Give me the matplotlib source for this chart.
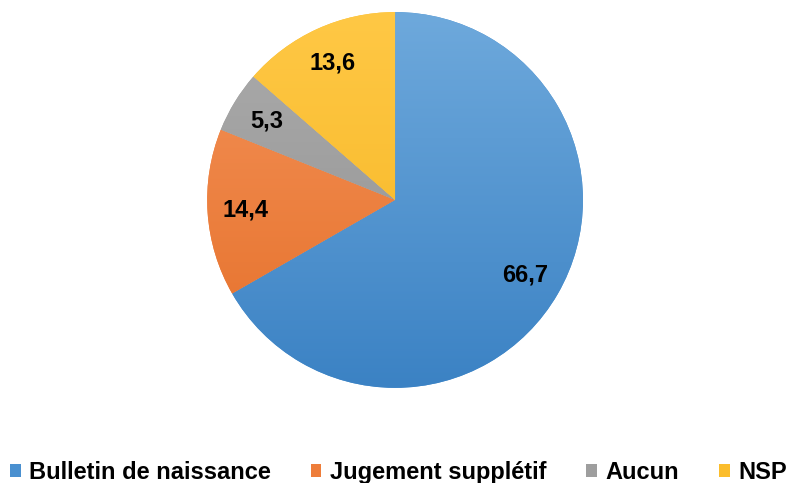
import numpy as np
import matplotlib
matplotlib.use('Agg')
import matplotlib.pyplot as plt
from matplotlib.colors import to_rgb
from matplotlib.patches import Patch

labels = ['Bulletin de naissance', 'Jugement supplétif', 'Aucun', 'NSP']
values = [66.7, 14.4, 5.3, 13.6]
value_texts = ['66,7', '14,4', '5,3', '13,6']
top_colors = ['#6ea9dc', '#f4935a', '#acacac', '#ffc845']
bottom_colors = ['#3b82c4', '#e56f28', '#8f8f8f', '#f4b420']
legend_colors = ['#4a90d0', '#ee7d3a', '#9e9e9e', '#fbbd2c']

plt.rcParams['font.family'] = ['Liberation Sans', 'DejaVu Sans']

fig = plt.figure(figsize=(7.87, 4.83), dpi=100)
ax = fig.add_axes([0.263, 0.197, 0.478, 0.778])

wedges, texts = ax.pie(values, startangle=90, counterclock=False,
                       colors=legend_colors, labels=value_texts,
                       labeldistance=0.8,
                       wedgeprops=dict(linewidth=0),
                       textprops=dict(fontsize=17, fontweight='bold', color='black'))
for t in texts:
    t.set_ha('center')
    t.set_va('center')

# vertical gradient in each slice
n = 256
for w, c1, c2 in zip(wedges, top_colors, bottom_colors):
    a = np.array(to_rgb(c1))
    b = np.array(to_rgb(c2))
    f = np.linspace(0, 1, n)[:, None]
    grad = (a * (1 - f) + b * f)[:, None, :]
    im = ax.imshow(grad, extent=(-1, 1, -1, 1), origin='upper', aspect='auto', zorder=w.get_zorder())
    im.set_clip_path(w)
for t in texts:
    t.set_zorder(5)

ax.set_xlim(-1, 1)
ax.set_ylim(-1, 1)
ax.set_aspect('equal')
ax.axis('off')

handles = [Patch(facecolor=c, edgecolor='none') for c in legend_colors]
fig.legend(handles, labels, loc='center', bbox_to_anchor=(0.506, 0.022), ncol=4,
           frameon=False, prop=dict(size=17, weight='bold'),
           handlelength=0.45, handleheight=0.45, handletextpad=0.35, columnspacing=1.7,
           borderpad=0, borderaxespad=0)

fig.savefig('out.png', dpi=100)
